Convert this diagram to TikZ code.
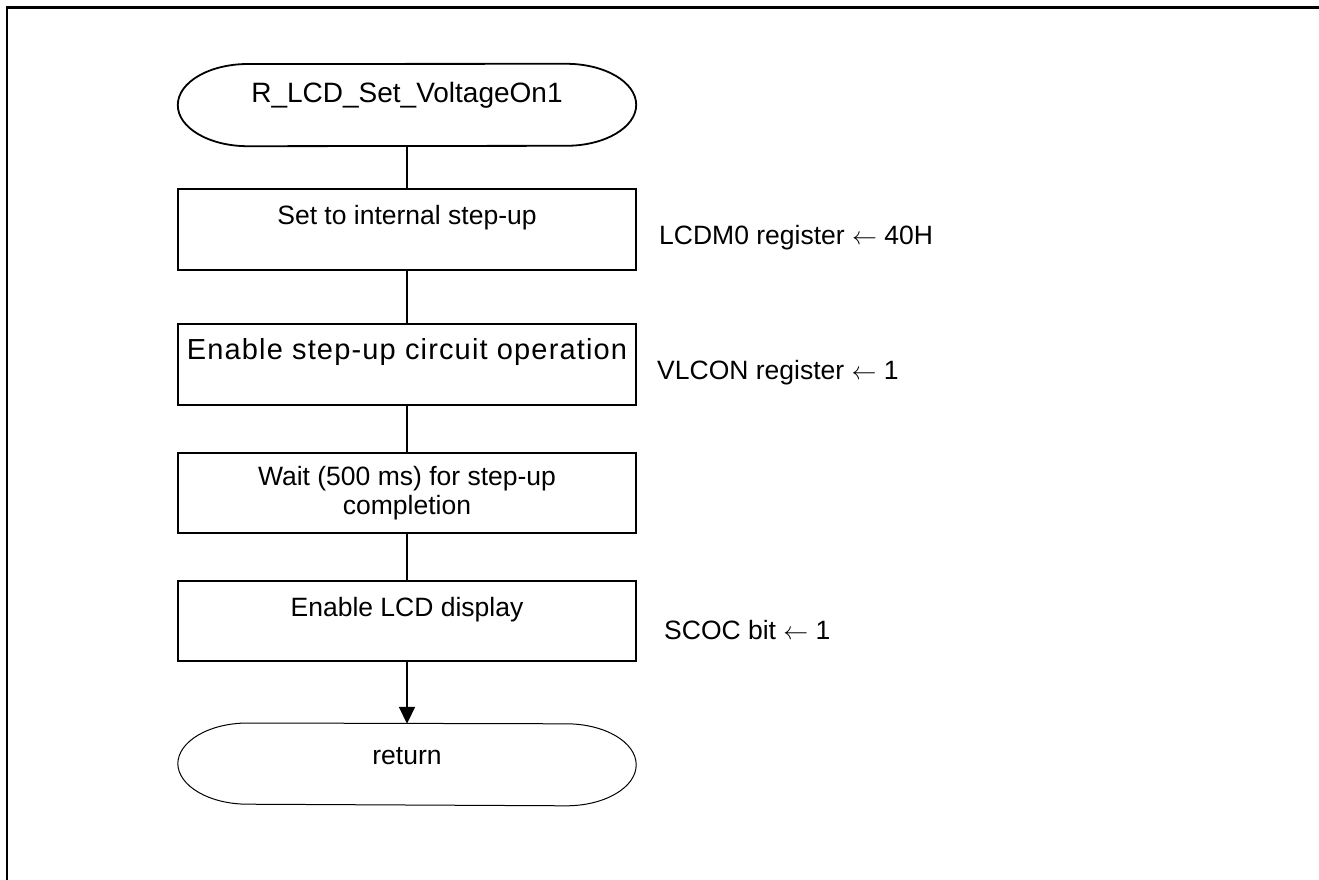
\documentclass[tikz,border=0pt]{standalone}
\usepackage{fontspec}
\setmainfont{Liberation Sans}
\usetikzlibrary{arrows.meta}

% outline of a terminal node: straight top and bottom, elliptic ends
\newcommand{\termline}[2]{%
  \draw[line width=#2] (#1.west)
    arc[start angle=180,end angle=90,x radius=70pt,y radius=41pt]
    -- ([xshift=-70pt]#1.north east)
    arc[start angle=90,end angle=-90,x radius=70pt,y radius=41pt]
    -- ([xshift=70pt]#1.south west)
    arc[start angle=270,end angle=180,x radius=70pt,y radius=41pt] -- cycle;}

\tikzset{
  txt/.style={font=\fontsize{26.5}{29}\selectfont},
  terminal/.style={txt,minimum width=458pt,minimum height=82pt,inner sep=0pt,
    text height=20pt,text depth=24pt},
  procbox/.style={txt,draw,line width=1.8pt,minimum width=458pt,minimum height=81pt,
    inner sep=0pt,align=center},
  procone/.style={procbox,text height=20pt,text depth=30pt},
  regnote/.style={txt,anchor=west,inner sep=0pt},
  flow/.style={line width=1.8pt}
}

\begin{document}
\begin{tikzpicture}[x=1pt,y=-1pt]
\useasboundingbox (0,0) rectangle (1319,880);
\draw[line width=2.4pt] (7,880) -- (7,7.5) -- (1319,7.5);

\node (start) at (407,105) [terminal,font=\fontsize{28}{31}\selectfont] {R\_LCD\_Set\_VoltageOn1};
\termline{start}{1.8pt}
\node (intstep) at (407,229.5) [procone] {Set to internal step-up};
\node (enable) at (407,364.5) [procone,font=\fontsize{29}{32}\selectfont] {\addfontfeatures{LetterSpace=4}Enable step-up circuit operation};
\node (wait) at (407,493) [procbox,minimum height=80pt] {Wait (500 ms) for step-up\\completion};
\node (lcdon) at (407,621) [procone,minimum height=80pt] {Enable LCD display};
\node (ret) at (407,764) [terminal,minimum height=80pt,text depth=20pt] {return};
\termline{ret}{1pt}

\node (lcdm) at (659,238) [regnote] {LCDM0 register $\leftarrow$ 40H};
\node (vlcon) at (657,373) [regnote] {VLCON register $\leftarrow$ 1};
\node (scoc) at (664,630) [regnote] {SCOC bit $\leftarrow$ 1};

\draw[flow] (start.south) -- (intstep.north);
\draw[flow] (intstep.south) -- (enable.north);
\draw[flow] (enable.south) -- (wait.north);
\draw[flow] (wait.south) -- (lcdon.north);
\draw[flow,-{Triangle[length=17pt,width=16pt]}] (lcdon.south) -- (ret.north);
\end{tikzpicture}
\end{document}
